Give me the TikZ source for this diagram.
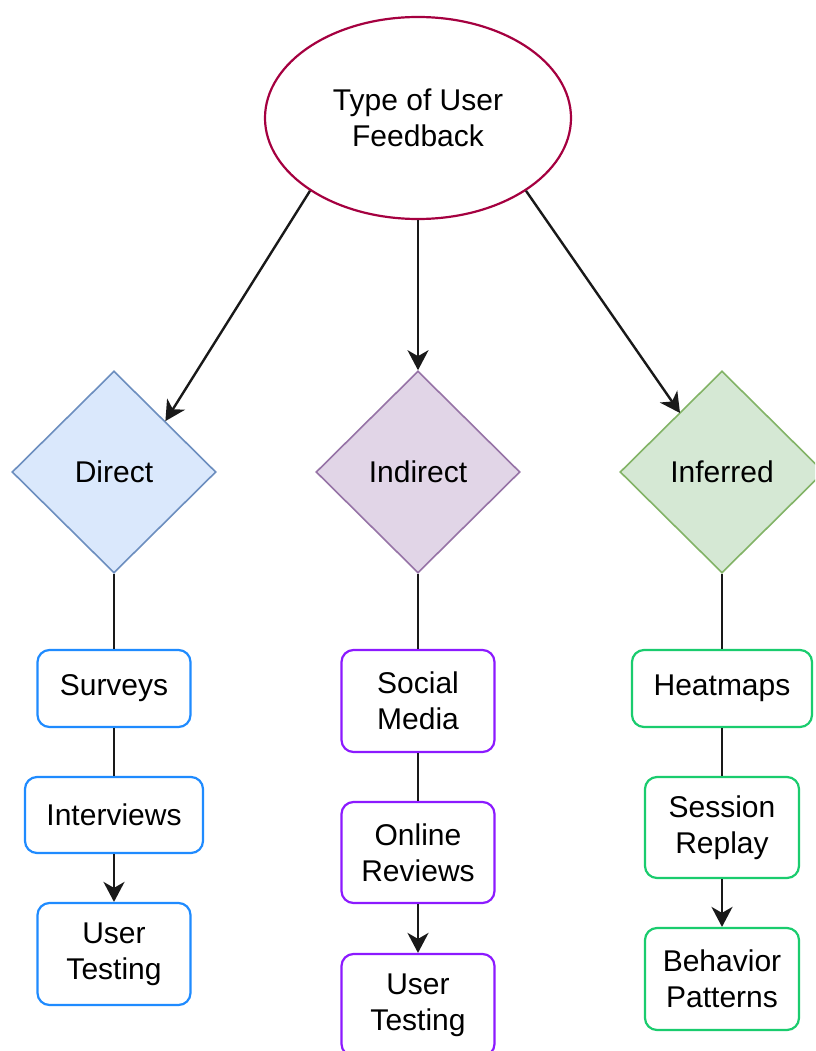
\documentclass[tikz,border=0pt]{standalone}
\usepackage{fontspec}
\setmainfont{Liberation Sans}
\usetikzlibrary{shapes.geometric,arrows.meta}
\definecolor{ellstroke}{HTML}{A50040}
\definecolor{dirfill}{HTML}{DAE8FC}
\definecolor{dirstroke}{HTML}{6C8EBF}
\definecolor{indfill}{HTML}{E1D5E7}
\definecolor{indstroke}{HTML}{9673A6}
\definecolor{inffill}{HTML}{D5E8D4}
\definecolor{infstroke}{HTML}{82B366}
\definecolor{bluebox}{HTML}{1F8BFF}
\definecolor{purplebox}{HTML}{8C1AFF}
\definecolor{greenbox}{HTML}{1ACC6E}
\tikzset{
  lbl/.style={font=\fontsize{30}{36}\selectfont, align=center, text=black},
  topnode/.style={lbl, ellipse, draw=ellstroke, line width=2.2pt, fill=white, minimum width=306pt, minimum height=202pt, inner sep=0pt},
  dia/.style={lbl, diamond, line width=1.6pt, minimum width=204pt, minimum height=202pt, inner sep=0pt},
  itembox/.style={lbl, rectangle, rounded corners=12pt, line width=2.2pt, fill=white, inner sep=0pt},
  conn/.style={line width=2.4pt, black!90},
  arr/.style={conn, -{Stealth[length=20pt,width=21pt,inset=6pt]}},
}
\begin{document}
\begin{tikzpicture}[x=1pt,y=-1pt]
\clip (0,0) rectangle (815,1051);
\fill[white] (0,0) rectangle (815,1051);

\node[topnode] (top) at (418,118) {Type of User\\Feedback};

\node[dia, draw=dirstroke, fill=dirfill] (dir) at (114,472) {Direct};
\node[dia, draw=indstroke, fill=indfill] (ind) at (418,472) {Indirect};
\node[dia, draw=infstroke, fill=inffill] (inf) at (722,472) {Inferred};

% Direct column
\node[itembox, draw=bluebox, minimum width=153pt, minimum height=77pt] (surv) at (114,688.5) {Surveys};
\node[itembox, draw=bluebox, minimum width=178pt, minimum height=76pt] (intv) at (114,815) {Interviews};
\node[itembox, draw=bluebox, minimum width=153pt, minimum height=102pt] (ut1) at (114,954) {User\\Testing};

% Indirect column
\node[itembox, draw=purplebox, minimum width=153pt, minimum height=102pt] (soc) at (418,701) {Social\\Media};
\node[itembox, draw=purplebox, minimum width=153pt, minimum height=101pt] (onl) at (418,852.5) {Online\\Reviews};
\node[itembox, draw=purplebox, minimum width=153pt, minimum height=102pt] (ut2) at (418,1005) {User\\Testing};

% Inferred column
\node[itembox, draw=greenbox, minimum width=180pt, minimum height=77pt] (heat) at (722,688.5) {Heatmaps};
\node[itembox, draw=greenbox, minimum width=154pt, minimum height=101pt] (sess) at (722,827.5) {Session\\Replay};
\node[itembox, draw=greenbox, minimum width=154pt, minimum height=102pt] (beh) at (722,979) {Behavior\\Patterns};

% top arrows
\draw[arr] (top.214) -- (dir.north east);
\draw[arr] (top.south) -- (ind.north);
\coordinate (infhit) at (680,413);
\draw[arr] (top.326) -- (infhit);

% columns
\draw[conn] (dir.south) -- (surv.north);
\draw[conn] (surv.south) -- (intv.north);
\draw[arr] (intv.south) -- (ut1.north);

\draw[conn] (ind.south) -- (soc.north);
\draw[conn] (soc.south) -- (onl.north);
\draw[arr] (onl.south) -- (ut2.north);

\draw[conn] (inf.south) -- (heat.north);
\draw[conn] (heat.south) -- (sess.north);
\draw[arr] (sess.south) -- (beh.north);
\end{tikzpicture}
\end{document}
